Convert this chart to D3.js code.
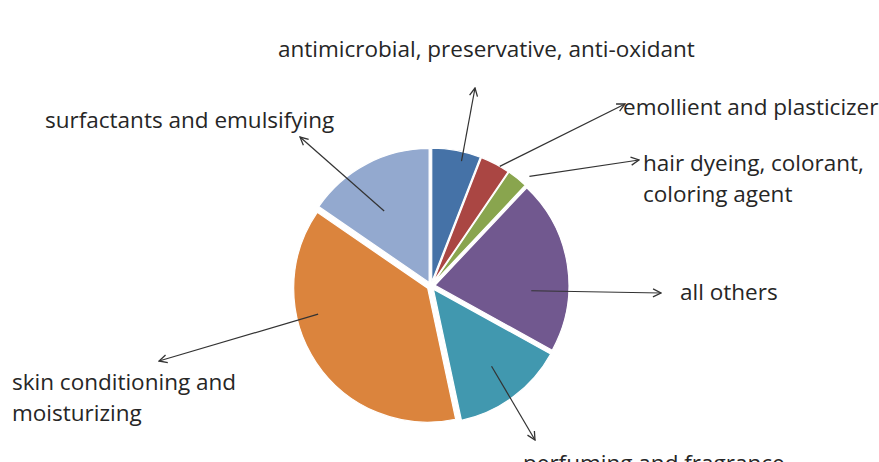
<!DOCTYPE html>
<html>
<head>
<meta charset="utf-8">
<script src="https://cdn.jsdelivr.net/npm/d3@7"></script>
<style>
  body { margin:0; background:#fff; }
  text { font-family: "Open Sans", Lato, sans-serif; fill:#262626; }
</style>
</head>
<body>
<svg id="svg1"></svg>
<script>
var W = 879, H = 462;

// data, clockwise from 12 o'clock
var categories = ["antimicrobial, preservative, anti-oxidant", "emollient and plasticizer",
  "hair dyeing, colorant, coloring agent", "all others", "perfuming and fragrance",
  "skin conditioning and moisturizing", "surfactants and emulsifying"];
var shares = [5.9, 3.6, 2.5, 21.0, 13.6, 37.9, 15.4];
var colors = ["#4572A7", "#AA4643", "#89A54E", "#71588F", "#4198AF", "#DB843D", "#93A9CF"];

// label text lines + where the label/arrow sit (t = position within slice, k = radius fraction)
var labelLines = [
  ["antimicrobial, preservative, anti-oxidant"],
  ["emollient and plasticizer"],
  ["hair dyeing, colorant,", "coloring agent"],
  ["all others"],
  ["perfuming and fragrance"],
  ["skin conditioning and", "moisturizing"],
  ["surfactants and emulsifying"]
];
var labelPos = [[278,57],[623,115],[643,171],[680,300],[523,471],[12,390],[45,128]];
var arrowTip = [[475,88],[625,104],[639,160],[661,293],[535,440],[159,361],[300,137]];
var arrowT = [0.65, 0.67, 0.86, 0.66, 0.49, 0.65, 0.42];
var arrowK = [0.93, 1.0, 1.07, 0.72, 0.72, 0.84, 0.63];

var cx = 431, cy = 286, R = 134, explode = 4;

window.onload = function(){
  var svg1 = d3.select('#svg1').attr('width',W).attr('height',H);

  svg1.append('defs').append('marker')
    .attr('id','arr').attr('viewBox','0 0 10 10')
    .attr('refX',9).attr('refY',5)
    .attr('markerWidth',10).attr('markerHeight',10)
    .attr('markerUnits','userSpaceOnUse')
    .attr('orient','auto')
    .append('path').attr('d','M1,1 L9,5 L1,9')
    .attr('fill','none').attr('stroke','#333').attr('stroke-width',1.3);

  var pie = d3.pie().sort(null).value(function(d){ return d; });
  var arcs = pie(shares);
  var arc = d3.arc().innerRadius(0).outerRadius(R);

  var g = svg1.append('g').attr('transform','translate('+cx+','+cy+')');

  g.selectAll('path.slice')
    .data(arcs)
    .enter()
    .append('path')
    .attr('class','slice')
    .attr('d',arc)
    .attr('fill',function(d,i){ return colors[i]; })
    .attr('stroke','#fff').attr('stroke-width',1.2)
    .attr('transform',function(d){
      var a = (d.startAngle+d.endAngle)/2;
      return 'translate('+(explode*Math.sin(a))+','+(-explode*Math.cos(a))+')';
    });

  // arrows
  arcs.forEach(function(d,i){
    var a = d.startAngle + arrowT[i]*(d.endAngle-d.startAngle);
    var m = (d.startAngle+d.endAngle)/2;
    var x0 = cx + explode*Math.sin(m) + arrowK[i]*R*Math.sin(a);
    var y0 = cy - explode*Math.cos(m) - arrowK[i]*R*Math.cos(a);
    svg1.append('line')
      .attr('x1',x0).attr('y1',y0)
      .attr('x2',arrowTip[i][0]).attr('y2',arrowTip[i][1])
      .attr('stroke','#333').attr('stroke-width',1.2)
      .attr('marker-end','url(#arr)');
  });

  // labels
  labelLines.forEach(function(lines,i){
    var t = svg1.append('text')
      .attr('x',labelPos[i][0]).attr('y',labelPos[i][1])
      .attr('font-size',22.5);
    lines.forEach(function(s,j){
      t.append('tspan').attr('x',labelPos[i][0]).attr('dy', j==0 ? 0 : 31).text(s);
    });
  });
};
</script>
</body>
</html>
